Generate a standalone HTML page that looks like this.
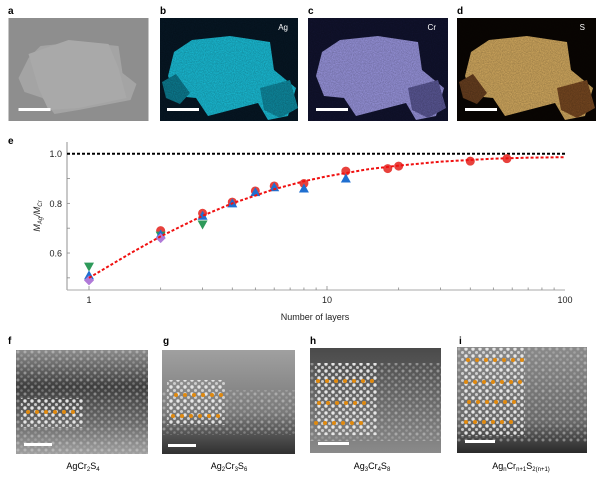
<!DOCTYPE html>
<html><head><meta charset="utf-8"><style>
body{margin:0;width:600px;height:477px;background:#fff;overflow:hidden;font-family:"Liberation Sans",sans-serif;}
svg{display:block}
</style></head><body>
<svg width="600" height="477" viewBox="0 0 600 477">
<defs>
<filter id="noise" x="0" y="0" width="100%" height="100%">
<feTurbulence type="fractalNoise" baseFrequency="0.9" numOctaves="2" seed="3"/>
<feColorMatrix type="matrix" values="0 0 0 0 0  0 0 0 0 0  0 0 0 0 0  0 0 0 0.55 0"/>
<feComposite in2="SourceGraphic" operator="in"/>
</filter>
<filter id="blur"><feGaussianBlur stdDeviation="0.6"/></filter>
<pattern id="lat" width="7" height="7" patternUnits="userSpaceOnUse">
<circle cx="2" cy="2" r="1.5" fill="#ddd" opacity="0.45"/><circle cx="5.5" cy="5.5" r="1.3" fill="#ccc" opacity="0.35"/>
</pattern>
<pattern id="lat2" width="7" height="7" patternUnits="userSpaceOnUse">
<circle cx="2" cy="2" r="1.7" fill="#eee" opacity="0.9"/><circle cx="5.5" cy="5.5" r="1.5" fill="#ddd" opacity="0.8"/>
</pattern>
<linearGradient id="gf" x1="0" y1="0" x2="0" y2="1"><stop offset="0" stop-color="#8a8a8a"/><stop offset="0.35" stop-color="#3e3e3e"/><stop offset="0.7" stop-color="#6a6a6a"/><stop offset="1" stop-color="#a0a0a0"/></linearGradient>
<linearGradient id="gg" x1="0" y1="0" x2="0" y2="1"><stop offset="0" stop-color="#a0a0a0"/><stop offset="0.6" stop-color="#7a7a7a"/><stop offset="1" stop-color="#303030"/></linearGradient>
<linearGradient id="gh" x1="0" y1="0" x2="0" y2="1"><stop offset="0" stop-color="#4a4a4a"/><stop offset="0.5" stop-color="#6a6a6a"/><stop offset="1" stop-color="#8a8a8a"/></linearGradient>
<linearGradient id="gi" x1="0" y1="0" x2="0" y2="1"><stop offset="0" stop-color="#8a8a8a"/><stop offset="0.7" stop-color="#6a6a6a"/><stop offset="1" stop-color="#2a2a2a"/></linearGradient>
</defs>

<!-- top EDS panels -->
<text x="8" y="14" font-size="10" font-weight="bold">a</text>
<text x="160" y="14" font-size="10" font-weight="bold">b</text>
<text x="308" y="14" font-size="10" font-weight="bold">c</text>
<text x="457" y="14" font-size="10" font-weight="bold">d</text>
<g transform="translate(8.5,18)">
<rect width="140" height="103" fill="#8e8e8e"/>
<polygon points="10,60 20,40 32,28 70,24 110,28 114,55 128,66 122,82 70,92 46,96 34,80 16,74" fill="#a4a4a4"/>
<polygon points="20,36 60,22 100,26 110,50 118,80 70,90 40,92 30,70" fill="#a9a9a9"/>
<rect x="10" y="90" width="32" height="3" fill="#fff"/>
</g>
<g transform="translate(160,18)">
<rect width="138" height="103" fill="#071826"/>
<polygon points="8,58 14,34 32,22 70,18 110,24 114,52 136,70 128,98 108,102 98,85 48,98 36,80 16,78" fill="#1bc2dc"/>
<polygon points="2,64 16,56 30,75 20,86 6,80" fill="#0d7f95"/>
<polygon points="100,70 130,62 138,90 120,100 104,92" fill="#0f8ea5"/>
<rect width="138" height="103" fill="#000" filter="url(#noise)" opacity="0.6"/>
<text x="128" y="12" font-size="8" fill="#fff" text-anchor="end">Ag</text>
<rect x="7" y="90" width="32" height="3" fill="#fff"/>
</g>
<g transform="translate(308,18)">
<rect width="140" height="103" fill="#121430"/>
<polygon points="8,58 14,34 32,22 70,18 110,24 114,52 136,70 128,98 108,102 98,85 48,98 36,80 16,78" fill="#9c98e2"/>
<polygon points="100,70 130,62 138,90 120,100 104,92" fill="#5d5a9a"/>
<rect width="140" height="103" fill="#000" filter="url(#noise)" opacity="0.6"/>
<text x="128" y="12" font-size="8" fill="#fff" text-anchor="end">Cr</text>
<rect x="8" y="90" width="32" height="3" fill="#fff"/>
</g>
<g transform="translate(457,18)">
<rect width="139" height="103" fill="#0a0603"/>
<polygon points="8,58 14,34 32,22 70,18 110,24 114,52 136,70 128,98 108,102 98,85 48,98 36,80 16,78" fill="#d8ae62"/>
<polygon points="100,70 130,62 138,90 120,100 104,92" fill="#7a4a22"/>
<polygon points="2,64 16,56 30,75 20,86 6,80" fill="#6a4020"/>
<rect width="139" height="103" fill="#000" filter="url(#noise)" opacity="0.6"/>
<text x="128" y="12" font-size="8" fill="#fff" text-anchor="end">S</text>
<rect x="8" y="90" width="32" height="3" fill="#fff"/>
</g>

<!-- chart e -->
<text x="8" y="144" font-size="10" font-weight="bold">e</text>
<g id="chart"></g>

<!-- bottom HAADF panels -->
<text x="8" y="344" font-size="10" font-weight="bold">f</text>
<text x="163" y="344" font-size="10" font-weight="bold">g</text>
<text x="310" y="344" font-size="10" font-weight="bold">h</text>
<text x="459" y="344" font-size="10" font-weight="bold">i</text>

<g transform="translate(16,350)">
<rect width="132" height="104" fill="url(#gf)"/>
<rect width="132" height="104" fill="url(#lat)"/>
<rect x="5" y="48" width="62" height="30" fill="url(#lat2)"/>
<g fill="#e08a10"><circle cx="12" cy="62" r="2"/><circle cx="21" cy="62" r="2"/><circle cx="30" cy="62" r="2"/><circle cx="39" cy="62" r="2"/><circle cx="48" cy="62" r="2"/><circle cx="57" cy="62" r="2"/></g>
<rect x="8" y="93" width="28" height="3" fill="#fff"/>
</g>
<text x="83" y="469" font-size="9" text-anchor="middle">AgCr<tspan font-size="6" dy="2">2</tspan><tspan dy="-2">S</tspan><tspan font-size="6" dy="2">4</tspan></text>

<g transform="translate(162,350)">
<rect width="133" height="104" fill="url(#gg)"/>
<rect y="40" width="133" height="45" fill="url(#lat)"/>
<rect x="5" y="30" width="58" height="45" fill="url(#lat2)"/>
<g fill="#e08a10"><circle cx="14" cy="45" r="2"/><circle cx="23" cy="45" r="2"/><circle cx="32" cy="45" r="2"/><circle cx="41" cy="45" r="2"/><circle cx="50" cy="45" r="2"/><circle cx="59" cy="45" r="2"/><circle cx="11" cy="66" r="2"/><circle cx="20" cy="66" r="2"/><circle cx="29" cy="66" r="2"/><circle cx="38" cy="66" r="2"/><circle cx="47" cy="66" r="2"/><circle cx="56" cy="66" r="2"/></g>
<rect x="6" y="94" width="28" height="3" fill="#fff"/>
</g>
<text x="229" y="469" font-size="9" text-anchor="middle">Ag<tspan font-size="6" dy="2">2</tspan><tspan dy="-2">Cr</tspan><tspan font-size="6" dy="2">3</tspan><tspan dy="-2">S</tspan><tspan font-size="6" dy="2">6</tspan></text>

<g transform="translate(310,348)">
<rect width="131" height="105" fill="url(#gh)"/>
<rect y="15" width="131" height="78" fill="url(#lat)"/>
<rect x="5" y="15" width="62" height="72" fill="url(#lat2)"/>
<g fill="#e08a10"><circle cx="8" cy="33" r="2"/><circle cx="17" cy="33" r="2"/><circle cx="26" cy="33" r="2"/><circle cx="35" cy="33" r="2"/><circle cx="44" cy="33" r="2"/><circle cx="53" cy="33" r="2"/><circle cx="62" cy="33" r="2"/><circle cx="9" cy="55" r="2"/><circle cx="18" cy="55" r="2"/><circle cx="27" cy="55" r="2"/><circle cx="36" cy="55" r="2"/><circle cx="45" cy="55" r="2"/><circle cx="54" cy="55" r="2"/><circle cx="6" cy="75" r="2"/><circle cx="15" cy="75" r="2"/><circle cx="24" cy="75" r="2"/><circle cx="33" cy="75" r="2"/><circle cx="42" cy="75" r="2"/><circle cx="51" cy="75" r="2"/></g>
<rect x="8" y="94" width="31" height="3" fill="#fff"/>
</g>
<text x="372" y="469" font-size="9" text-anchor="middle">Ag<tspan font-size="6" dy="2">3</tspan><tspan dy="-2">Cr</tspan><tspan font-size="6" dy="2">4</tspan><tspan dy="-2">S</tspan><tspan font-size="6" dy="2">8</tspan></text>

<g transform="translate(457,347)">
<rect width="130" height="106" fill="url(#gi)"/>
<rect width="130" height="95" fill="url(#lat)"/>
<rect x="4" y="1" width="64" height="88" fill="url(#lat2)"/>
<g fill="#e08a10"><circle cx="11" cy="13" r="2"/><circle cx="20" cy="13" r="2"/><circle cx="29" cy="13" r="2"/><circle cx="38" cy="13" r="2"/><circle cx="47" cy="13" r="2"/><circle cx="56" cy="13" r="2"/><circle cx="65" cy="13" r="2"/><circle cx="9" cy="35" r="2"/><circle cx="18" cy="35" r="2"/><circle cx="27" cy="35" r="2"/><circle cx="36" cy="35" r="2"/><circle cx="45" cy="35" r="2"/><circle cx="54" cy="35" r="2"/><circle cx="63" cy="35" r="2"/><circle cx="12" cy="55" r="2"/><circle cx="21" cy="55" r="2"/><circle cx="30" cy="55" r="2"/><circle cx="39" cy="55" r="2"/><circle cx="48" cy="55" r="2"/><circle cx="57" cy="55" r="2"/><circle cx="9" cy="75" r="2"/><circle cx="18" cy="75" r="2"/><circle cx="27" cy="75" r="2"/><circle cx="36" cy="75" r="2"/><circle cx="45" cy="75" r="2"/><circle cx="54" cy="75" r="2"/></g>
<rect x="8" y="93" width="30" height="3" fill="#fff"/>
</g>
<text x="521" y="469" font-size="9" text-anchor="middle">Ag<tspan font-size="6" dy="2">n</tspan><tspan dy="-2">Cr</tspan><tspan font-size="6" dy="2">n+1</tspan><tspan dy="-2">S</tspan><tspan font-size="6" dy="2">2(n+1)</tspan></text>
</svg>
<script>
const redX=[2,3,4,5,6,8,12,18,20,40,57];
const redY=[0.69,0.76,0.805,0.85,0.87,0.88,0.93,0.94,0.95,0.97,0.98];
const blueX=[1,2,3,4,5,6,8,12];
const blueY=[0.51,0.675,0.75,0.80,0.845,0.865,0.86,0.90];
const greenX=[1,2,3];
const greenY=[0.545,0.67,0.715];
const purpleX=[1,2];
const purpleY=[0.49,0.66];
const fitX=[1,1.5,2,3,4,6,8,10,15,20,30,50,70,100];
const fitY=[0.5,0.6,0.667,0.75,0.8,0.857,0.889,0.909,0.938,0.952,0.968,0.98,0.984,0.986];
const yTicks=[0.6,0.8,1.0];
const yTickLabels=["0.6","0.8","1.0"];
const xTicks=[1,10,100];
const xTickLabels=["1","10","100"];

const NS="http://www.w3.org/2000/svg";
const g=document.getElementById('chart');
const X0=67,X1=565,Y0=142,Y1=290;
const sx=v=>89+Math.log10(v)*238;
const sy=v=>153.7+(1-v)*248.3;
function mk(t,a,p){const e=document.createElementNS(NS,t);for(const k in a)e.setAttribute(k,a[k]);(p||g).appendChild(e);return e;}

let ax=mk('line',{x1:X0,y1:Y0,x2:X0,y2:Y1,stroke:'#aaa','stroke-width':1.3});


let bx=mk('line',{x1:X0,y1:Y1,x2:X1,y2:Y1,stroke:'#aaa','stroke-width':1});


for(let v=0.5;v<1.05;v+=0.1){let t=mk('line',{x1:X0,y1:sy(v),x2:X0+3,y2:sy(v),stroke:'#888','stroke-width':0.8});

}
yTicks.forEach((v,i)=>{let l=mk('text',{x:X0-5,y:sy(v)+3.5,'font-size':9,'text-anchor':'end',fill:'#222'});l.textContent=yTickLabels[i];

});
for(let d=1;d<100;d*=10){for(let m=1;m<10;m++){const v=d*m;const L=(m===1)?4:2.5;let t=mk('line',{x1:sx(v),y1:Y1,x2:sx(v),y2:Y1-L,stroke:'#888','stroke-width':0.8});

}}
xTicks.forEach((v,i)=>{let l=mk('text',{x:sx(v),y:Y1+13,'font-size':9,'text-anchor':'middle',fill:'#222'});l.textContent=xTickLabels[i];

});
let xl=mk('text',{x:315,y:320,'font-size':9,'text-anchor':'middle',fill:'#222'});xl.textContent='Number of layers';


let yl=mk('text',{x:0,y:0,'font-size':9,'text-anchor':'middle',fill:'#222',transform:'translate(40,216) rotate(-90)','font-style':'italic'});
yl.innerHTML='M<tspan font-size="6" dy="2">Ag</tspan><tspan dy="-2">/M</tspan><tspan font-size="6" dy="2">Cr</tspan>';


let ref=mk('line',{x1:X0,y1:sy(1),x2:X1,y2:sy(1),stroke:'#000','stroke-width':2,'stroke-dasharray':'3,2'});



function marker(type,x,y,col){let e;const cx=sx(x),cy=sy(y);
if(type==='c')e=mk('circle',{cx,cy,r:4.5,fill:col});
else if(type==='t')e=mk('polygon',{points:`${cx},${cy-5} ${cx-5},${cy+4} ${cx+5},${cy+4}`,fill:col});
else if(type==='v')e=mk('polygon',{points:`${cx},${cy+5} ${cx-5},${cy-4} ${cx+5},${cy-4}`,fill:col});
else e=mk('polygon',{points:`${cx},${cy-5} ${cx+5},${cy} ${cx},${cy+5} ${cx-5},${cy}`,fill:col});
return e;}
redX.forEach((x,i)=>{const e=marker('c',x,redY[i],'#e8413c');

});
greenX.forEach((x,i)=>{const e=marker('v',x,greenY[i],'#2e9a5a');

});
blueX.forEach((x,i)=>{const e=marker('t',x,blueY[i],'#1f6fd0');

});
purpleX.forEach((x,i)=>{const e=marker('d',x,purpleY[i],'#b07ad8');

});
let fit=mk('polyline',{points:fitX.map((x,i)=>sx(x)+','+sy(fitY[i])).join(' '),fill:'none',stroke:'#f01010','stroke-width':2,'stroke-dasharray':'3,2'});


</script>
</body></html>
